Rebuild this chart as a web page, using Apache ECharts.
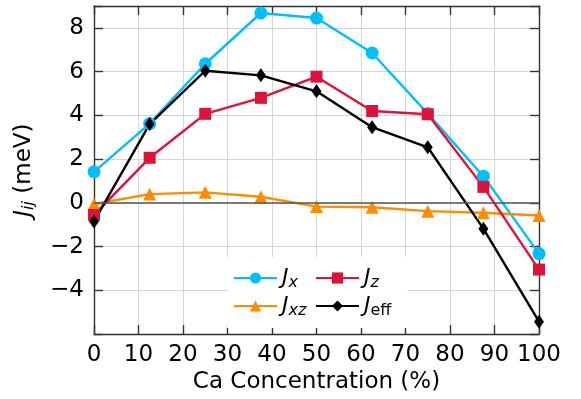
<!DOCTYPE html>
<html>
<head>
<meta charset="utf-8">
<script src="https://cdn.jsdelivr.net/npm/echarts@6/dist/echarts.min.js"></script>
<style>
  html, body { margin: 0; padding: 0; background: #fff; }
  #chart { width: 581px; height: 399px; }
</style>
</head>
<body>
<div id="chart"></div>
<script>
// Ca concentration (%) and exchange couplings (meV)
const xValues = [0, 12.5, 25, 37.5, 50, 62.5, 75, 87.5, 100];
const jx = [1.42, 3.62, 6.36, 8.68, 8.45, 6.85, 4.08, 1.22, -2.32];
const jz = [-0.55, 2.06, 4.07, 4.8, 5.77, 4.2, 4.05, 0.73, -3.05];
const jxz = [-0.05, 0.4, 0.48, 0.28, -0.17, -0.2, -0.38, -0.45, -0.58];
const jeff = [-0.85, 3.6, 6.04, 5.83, 5.1, 3.46, 2.54, -1.18, -5.43];
const yTicks = [-4, -2, 0, 2, 4, 6, 8];
const xTicks = [0, 10, 20, 30, 40, 50, 60, 70, 80, 90, 100];

const font = "DejaVu Sans";
const pairs = arr => arr.map((v, i) => [xValues[i], v]);

const legendNames = {
  Jx: "{i|J}{s|x}",
  Jz: "{i|J}{s|z}",
  Jxz: "{i|J}{s|xz}",
  Jeff: "{i|J}{u|eff}"
};
const legendRich = {
  i: { fontFamily: font, fontSize: 22, fontStyle: "italic", color: "#000" },
  s: { fontFamily: font, fontSize: 16, fontStyle: "italic", color: "#000", padding: [10, 0, 0, 0] },
  u: { fontFamily: font, fontSize: 16, color: "#000", padding: [10, 0, 0, 0] }
};

const spine = "#333";
const gridColor = "#d6d6d6";

function line(name, data, color, symbol, size) {
  return {
    name: name,
    type: "line",
    data: pairs(data),
    symbol: symbol,
    symbolSize: size,
    lineStyle: { color: color, width: 2.4 },
    itemStyle: { color: color },
    emphasis: { disabled: true },
    animation: false
  };
}

const sJx = line("Jx", jx, "#00bfff", "circle", 13);
sJx.markLine = {
  silent: true,
  symbol: "none",
  label: { show: false },
  lineStyle: { color: "#555", width: 1.5, type: "solid" },
  data: [{ yAxis: 0 }],
  animation: false
};

function frameAxis(extra) {
  return Object.assign({
    axisLine: { show: true, onZero: false, lineStyle: { color: spine, width: 1.4 } },
    axisTick: { show: true, inside: true, length: 9, lineStyle: { color: spine, width: 1.4 } }
  }, extra);
}

const option = {
  backgroundColor: "#fff",
  grid: { left: 94, right: 42, top: 6, bottom: 64 },
  legend: [
    {
      data: ["Jx", "Jxz"],
      orient: "vertical",
      left: 227, top: 257,
      padding: [10, 30, 9, 6],
      itemGap: 4,
      itemWidth: 43, itemHeight: 14,
      backgroundColor: "#fff",
      formatter: n => legendNames[n],
      textStyle: { rich: legendRich }
    },
    {
      data: ["Jz", "Jeff"],
      orient: "vertical",
      left: 309, top: 257,
      padding: [10, 16, 9, 6],
      itemGap: 4,
      itemWidth: 43, itemHeight: 14,
      backgroundColor: "#fff",
      formatter: n => legendNames[n],
      textStyle: { rich: legendRich }
    }
  ],
  xAxis: [
    frameAxis({
      type: "value", min: 0, max: 100, interval: 10,
      name: "Ca Concentration (%)",
      nameLocation: "middle", nameGap: 36,
      nameTextStyle: { fontFamily: font, fontSize: 23, color: "#000" },
      axisLabel: {
        fontFamily: font, fontSize: 23, color: "#000", margin: 9,
        formatter: v => xTicks.includes(v) ? String(v) : ""
      },
      splitLine: { show: true, lineStyle: { color: gridColor, width: 1 } }
    }),
    frameAxis({
      type: "value", min: 0, max: 100, interval: 10, position: "top",
      axisLabel: { show: false },
      splitLine: { show: false }
    })
  ],
  yAxis: [
    frameAxis({
      type: "value", min: -6, max: 9, interval: 2,
      name: "{i|J}{s|ij} (meV)",
      nameLocation: "middle", nameGap: 57,
      nameTextStyle: {
        fontFamily: font, fontSize: 23, color: "#000",
        rich: {
          i: { fontFamily: font, fontSize: 23, fontStyle: "italic", color: "#000" },
          s: { fontFamily: font, fontSize: 16, fontStyle: "italic", color: "#000", padding: [10, 0, 0, 0] }
        }
      },
      axisLabel: {
        fontFamily: font, fontSize: 23, color: "#000", margin: 10,
        formatter: v => yTicks.includes(v) ? String(v).replace("-", "\u2212") : ""
      },
      splitLine: { show: true, lineStyle: { color: gridColor, width: 1 } }
    }),
    frameAxis({
      type: "value", min: -6, max: 9, interval: 2, position: "right",
      axisLabel: { show: false },
      splitLine: { show: false }
    })
  ],
  series: [
    sJx,
    line("Jxz", jxz, "#ff8c00", "triangle", 13),
    line("Jz", jz, "#dc143c", "rect", 12),
    line("Jeff", jeff, "#000000", "diamond", [10, 14])
  ]
};

const chart = echarts.init(document.getElementById("chart"), null, { renderer: "canvas" });
chart.setOption(option);
</script>
</body>
</html>
